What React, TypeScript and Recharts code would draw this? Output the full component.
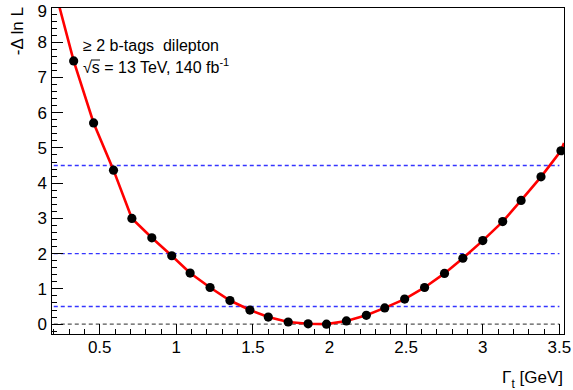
import { ComposedChart, Line, Scatter, XAxis, YAxis, ReferenceArea } from 'recharts';

// top-quark width scan points
const widths = [0.33, 0.46, 0.59, 0.71, 0.84, 0.97, 1.09, 1.22, 1.35, 1.48, 1.6, 1.73, 1.86, 1.98, 2.11, 2.24, 2.36, 2.49, 2.62, 2.75, 2.87, 3.0, 3.13, 3.25, 3.38, 3.51];
const nll = [7.47, 5.71, 4.37, 3.0, 2.45, 1.94, 1.45, 1.04, 0.67, 0.4, 0.2, 0.06, 0.01, 0.0, 0.09, 0.25, 0.46, 0.71, 1.04, 1.44, 1.87, 2.37, 2.91, 3.51, 4.18, 4.92];
// where the red curve runs out of the frame
const curveLeft = { x: 0.237, y: 9 };
const curveRight = { x: 3.53, y: 5.14 };
// dashed guide lines
const zeroLevel = 0;
const levels = [0.5, 2, 4.5];
const guideSpan = [0.2, 3.5];
const xMajor = [0.5, 1, 1.5, 2, 2.5, 3, 3.5];
const yMajor = [0, 1, 2, 3, 4, 5, 6, 7, 8, 9];

const X_DOMAIN: [number, number] = [0.182, 3.53];
const Y_DOMAIN: [number, number] = [-0.28, 9];
const FONT = '"Liberation Sans", Arial, Helvetica, sans-serif';

const points = widths.map((x, i) => ({ x, y: nll[i] }));
const curve = [curveLeft, ...points, curveRight];
const guide = (lv: number) => guideSpan.map((x) => ({ x, y: lv }));

function steps(from: number, to: number, step: number) {
  const out: number[] = [];
  for (let v = from; v <= to + 1e-9; v += step) out.push(Math.round(v * 10) / 10);
  return out;
}
const xTicks = steps(0.2, 3.5, 0.1);
const yTicks = steps(-0.2, 9, 0.2);

const isMajor = (v: number, list: number[]) => list.some((m) => Math.abs(m - v) < 1e-6);

function XTick(props: any) {
  const { x, y, payload } = props;
  const major = isMajor(payload.value, xMajor);
  return (
    <g>
      <line x1={x} x2={x} y1={y} y2={y - (major ? 10 : 5)} stroke="#000" strokeWidth={1} shapeRendering="crispEdges" />
      {major && (
        <text x={x} y={y + 19} textAnchor="middle" fontSize={17} fontFamily={FONT} fill="#000">
          {payload.value}
        </text>
      )}
    </g>
  );
}

function YTick(props: any) {
  const { x, y, payload } = props;
  const major = isMajor(payload.value, yMajor);
  // keep the top label inside the page
  const base = Math.max(y + 6, 16.5);
  return (
    <g>
      <line x1={x} x2={x + (major ? 12 : 6)} y1={y} y2={y} stroke="#000" strokeWidth={1} shapeRendering="crispEdges" />
      {major && (
        <text x={x - 4} y={base} textAnchor="end" fontSize={17} fontFamily={FONT} fill="#000">
          {payload.value}
        </text>
      )}
    </g>
  );
}

export default function App() {
  return (
    <div style={{ position: 'absolute', left: 0, top: 0, width: 573, height: 390, background: '#fff' }}>
      <ComposedChart width={573} height={390} margin={{ top: 7, right: 9, bottom: 0, left: 0 }}>
        <XAxis
          type="number"
          dataKey="x"
          domain={X_DOMAIN}
          allowDataOverflow
          ticks={xTicks}
          interval={0}
          height={56}
          tickSize={0}
          tickMargin={0}
          axisLine={false}
          tickLine={false}
          tick={<XTick />}
        />
        <YAxis
          type="number"
          dataKey="y"
          domain={Y_DOMAIN}
          allowDataOverflow
          ticks={yTicks}
          interval={0}
          width={51}
          tickSize={0}
          tickMargin={0}
          axisLine={false}
          tickLine={false}
          tick={<YTick />}
        />
        <Line
          data={guide(zeroLevel)}
          dataKey="y"
          type="linear"
          stroke="#555555"
          strokeDasharray="4 3"
          strokeWidth={1.2}
          dot={false}
          activeDot={false}
          isAnimationActive={false}
        />
        {levels.map((lv) => (
          <Line
            key={'lv' + lv}
            data={guide(lv)}
            dataKey="y"
            type="linear"
            stroke="#3535ff"
            strokeDasharray="4 3"
            strokeWidth={1.4}
            dot={false}
            activeDot={false}
            isAnimationActive={false}
          />
        ))}
        <Line
          data={curve}
          dataKey="y"
          type="linear"
          stroke="#ff0000"
          strokeWidth={2.6}
          dot={false}
          activeDot={false}
          isAnimationActive={false}
        />
        <Scatter
          data={points}
          dataKey="y"
          fill="#000"
          isAnimationActive={false}
          shape={(p: any) => <circle cx={p.cx} cy={p.cy} r={4.6} fill="#000" />}
        />
        <ReferenceArea
          x1={X_DOMAIN[0]}
          x2={X_DOMAIN[1]}
          y1={Y_DOMAIN[0]}
          y2={Y_DOMAIN[1]}
          fill="none"
          fillOpacity={0}
          stroke="#000"
          strokeWidth={1}
          shapeRendering="crispEdges"
        />
      </ComposedChart>
      <svg
        width={573}
        height={390}
        style={{ position: 'absolute', left: 0, top: 0, pointerEvents: 'none' }}
        fontFamily={FONT}
      >
        <text transform="translate(23,7) rotate(-90)" textAnchor="end" fontSize={17} fill="#000">
          -Δ ln L
        </text>
        <text x={563} y={383} textAnchor="end" fontSize={17} fill="#000">
          Γ<tspan fontSize={12} dy={5}>t</tspan>
          <tspan dy={-5}> [GeV]</tspan>
        </text>
        <text x={83} y={51} fontSize={16} fill="#000" style={{ whiteSpace: 'pre' }}>
          ≥ 2 b-tags  dilepton
        </text>
        <text x={83} y={73} fontSize={16} fill="#000">
          √s = 13 TeV, 140 fb<tspan fontSize={11} dy={-7}>-1</tspan>
        </text>
        <line x1={91} x2={100} y1={60} y2={60} stroke="#000" strokeWidth={1} />
      </svg>
    </div>
  );
}
